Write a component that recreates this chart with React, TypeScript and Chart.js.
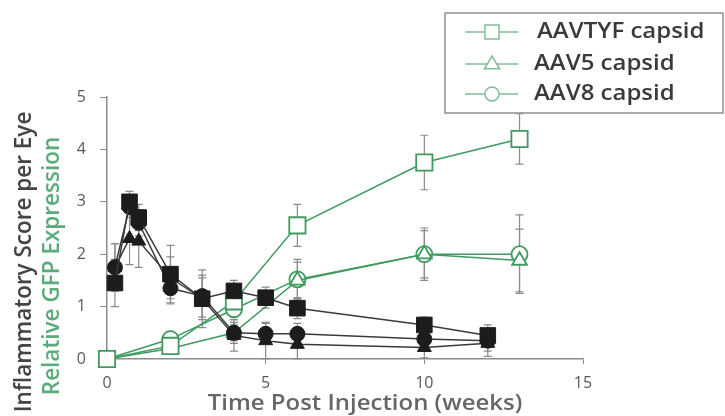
import React, { useEffect, useRef } from 'react';
import { Chart, registerables } from 'chart.js';

Chart.register(...registerables);

// ---- data ----
const X_TICK_STEP = 5;
const X_MAX = 15;
const Y_MAX = 5;

const GFP_WEEKS = [0, 2, 4, 6, 10, 13];
const AAVTYF_GFP = [0, 0.25, 1.1, 2.55, 3.75, 4.2];
const AAVTYF_GFP_ERR = [0.05, 0.15, 0.3, 0.4, 0.52, 0.48];
const AAV5_GFP = [0, 0.2, 0.5, 1.5, 2.0, 1.88];
const AAV5_GFP_ERR = [0.05, 0.1, 0.15, 0.35, 0.45, 0.6];
const AAV8_GFP = [0, 0.38, 0.95, 1.52, 2.0, 2.0];
const AAV8_GFP_ERR = [0.05, 0.15, 0.2, 0.38, 0.5, 0.75];

const INFL_WEEKS = [0.25, 0.71, 1, 2, 3, 4, 5, 6, 10, 12];
const AAVTYF_INFL = [1.45, 3.0, 2.7, 1.62, 1.15, 1.3, 1.17, 0.97, 0.65, 0.45];
const AAVTYF_INFL_ERR = [0.45, 0.2, 0.25, 0.55, 0.55, 0.2, 0.2, 0.2, 0.15, 0.2];
const AAV8_INFL = [1.75, 2.9, 2.6, 1.35, 1.2, 0.5, 0.48, 0.48, 0.38, 0.35];
const AAV8_INFL_ERR = [0.45, 0.2, 0.25, 0.3, 0.4, 0.2, 0.2, 0.2, 0.15, 0.2];
const AAV5_INFL = [1.75, 2.3, 2.25, 1.55, 1.15, 0.45, 0.35, 0.28, 0.22, 0.3];
const AAV5_INFL_ERR = [0.45, 0.5, 0.5, 0.4, 0.4, 0.3, 0.35, 0.28, 0.2, 0.25];

const LEGEND_LABELS = ['AAVTYF capsid', 'AAV5 capsid', 'AAV8 capsid'];
const Y_TITLE_BLACK = 'Inflammatory Score per Eye';
const Y_TITLE_GREEN = 'Relative GFP Expression';
const X_TITLE = 'Time Post Injection (weeks)';

// ---- styles ----
const FONT = '"Open Sans", Lato, sans-serif';
const GREEN = '#3f9a60';
const GREEN_TEXT = '#5aac7a';
const LEGEND_GREEN = '#80bd98';
const BLACK = '#1c1c1c';
const LINE_BLACK = '#3a3a3a';
const ERR_COLOR = '#8a8a8a';
const AXIS_COLOR = '#8c8c8c';
const TICK_COLOR = '#5a5a5a';

const pts = (xs: number[], ys: number[]) => xs.map((x, i) => ({ x, y: ys[i] }));

function drawText(
  ctx: CanvasRenderingContext2D,
  text: string,
  x: number,
  y: number,
  size: number,
  color: string,
  opts: { rotate?: number; scaleX?: number; align?: CanvasTextAlign; weight?: number } = {}
) {
  ctx.save();
  ctx.font = `${opts.weight || 400} ${size}px ${FONT}`;
  ctx.fillStyle = color;
  ctx.textAlign = opts.align || 'center';
  ctx.textBaseline = 'middle';
  ctx.translate(x, y);
  if (opts.rotate) ctx.rotate(opts.rotate);
  if (opts.scaleX) ctx.scale(opts.scaleX, 1);
  ctx.fillText(text, 0, 0);
  ctx.restore();
}

const errorBars = {
  id: 'errorBars',
  beforeDatasetsDraw(chart: any) {
    const { ctx, scales } = chart;
    const xs = scales.x;
    const ys = scales.y;
    ctx.save();
    chart.data.datasets.forEach((ds: any) => {
      if (!ds.err) return;
      ds.data.forEach((p: any, j: number) => {
        const e = ds.err[j];
        if (!e) return;
        const px = xs.getPixelForValue(p.x);
        const top = ys.getPixelForValue(p.y + e);
        const bot = ys.getPixelForValue(p.y - e);
        ctx.strokeStyle = ERR_COLOR;
        ctx.lineWidth = 1.2;
        ctx.beginPath();
        ctx.moveTo(px, top);
        ctx.lineTo(px, bot);
        ctx.moveTo(px - 4, top);
        ctx.lineTo(px + 4, top);
        ctx.moveTo(px - 4, bot);
        ctx.lineTo(px + 4, bot);
        ctx.stroke();
      });
    });
    ctx.restore();
  },
};

function drawMarker(ctx: CanvasRenderingContext2D, style: string, x: number, y: number, r: number) {
  ctx.beginPath();
  if (style === 'rect') {
    const s = r * Math.SQRT1_2;
    ctx.rect(x - s, y - s, 2 * s, 2 * s);
  } else if (style === 'triangle') {
    ctx.moveTo(x, y - r);
    ctx.lineTo(x + r * 0.95, y + r * 0.6);
    ctx.lineTo(x - r * 0.95, y + r * 0.6);
    ctx.closePath();
  } else {
    ctx.arc(x, y, r, 0, Math.PI * 2);
  }
  ctx.fill();
  ctx.stroke();
}

const boxLegend = {
  id: 'boxLegend',
  afterDraw(chart: any) {
    const { ctx, width } = chart;
    const left = 445;
    const top = 13;
    const right = width - 2;
    const bottom = 113;
    ctx.save();
    ctx.strokeStyle = '#909090';
    ctx.lineWidth = 1.5;
    ctx.strokeRect(left, top, right - left, bottom - top);
    const styles = ['rect', 'triangle', 'circle'];
    const radii = [10, 8, 7];
    const rows = [32, 64, 94];
    LEGEND_LABELS.forEach((label, i) => {
      const y = rows[i];
      ctx.strokeStyle = LEGEND_GREEN;
      ctx.lineWidth = 1.5;
      ctx.beginPath();
      ctx.moveTo(465, y);
      ctx.lineTo(518, y);
      ctx.stroke();
      ctx.fillStyle = '#ffffff';
      drawMarker(ctx, styles[i], 492, y, radii[i]);
      drawText(ctx, label, i === 0 ? 537 : 534, y, 22, '#3a3a3a', { align: 'left', scaleX: 1.09, weight: 600 });
    });
    ctx.restore();
  },
};

const axisTitles = {
  id: 'axisTitles',
  afterDraw(chart: any) {
    const { ctx } = chart;
    drawText(ctx, Y_TITLE_BLACK, 25, 262, 22.5, '#444444', { rotate: -Math.PI / 2, weight: 600 });
    drawText(ctx, Y_TITLE_GREEN, 53, 266, 22.5, GREEN_TEXT, { rotate: -Math.PI / 2, weight: 600 });
    drawText(ctx, X_TITLE, 365, 404, 21, '#666666', { scaleX: 1.14, weight: 600 });
  },
};

export default function App() {
  const ref = useRef<HTMLCanvasElement | null>(null);

  useEffect(() => {
    if (!ref.current) return;
    const blackSet = (label: string, ys: number[], err: number[], style: string, r: number) => ({
      label,
      data: pts(INFL_WEEKS, ys),
      err,
      borderColor: LINE_BLACK,
      borderWidth: 1.5,
      pointStyle: style,
      pointRadius: r,
      pointBackgroundColor: BLACK,
      pointBorderColor: BLACK,
      pointBorderWidth: 1,
      showLine: true,
      tension: 0,
    });
    const greenSet = (label: string, ys: number[], err: number[], style: string, r: number) => ({
      label,
      data: pts(GFP_WEEKS, ys),
      err,
      borderColor: GREEN,
      borderWidth: 1.5,
      pointStyle: style,
      pointRadius: r,
      pointBackgroundColor: '#ffffff',
      pointBorderColor: GREEN,
      pointBorderWidth: 1.8,
      showLine: true,
      tension: 0,
    });

    const chart = new Chart(ref.current, {
      type: 'line',
      data: {
        datasets: [
          blackSet('AAVTYF inflammation', AAVTYF_INFL, AAVTYF_INFL_ERR, 'rect', 11),
          blackSet('AAV8 inflammation', AAV8_INFL, AAV8_INFL_ERR, 'circle', 7.5),
          blackSet('AAV5 inflammation', AAV5_INFL, AAV5_INFL_ERR, 'triangle', 8),
          greenSet(LEGEND_LABELS[0], AAVTYF_GFP, AAVTYF_GFP_ERR, 'rect', 11.5),
          greenSet(LEGEND_LABELS[1], AAV5_GFP, AAV5_GFP_ERR, 'triangle', 8.5),
          greenSet(LEGEND_LABELS[2], AAV8_GFP, AAV8_GFP_ERR, 'circle', 8),
        ] as any,
      },
      options: {
        responsive: false,
        animation: false,
        clip: false as any,
        layout: { padding: { top: 97, right: 142, left: 0, bottom: 0 } },
        plugins: { legend: { display: false }, tooltip: { enabled: false } },
        scales: {
          x: {
            type: 'linear',
            min: 0,
            max: X_MAX,
            afterFit: (s: any) => { s.height = 57; },
            ticks: { stepSize: X_TICK_STEP, color: TICK_COLOR, font: { family: FONT, size: 16 }, padding: 10 },
            grid: { drawOnChartArea: false, drawTicks: true, tickLength: 5, color: AXIS_COLOR },
            border: { display: true, color: AXIS_COLOR, width: 1.5 },
          },
          y: {
            type: 'linear',
            min: 0,
            max: Y_MAX,
            afterFit: (s: any) => { s.width = 107; },
            ticks: { stepSize: 1, color: TICK_COLOR, font: { family: FONT, size: 16 }, padding: 14 },
            grid: { drawOnChartArea: false, drawTicks: true, tickLength: 7, color: AXIS_COLOR },
            border: { display: true, color: AXIS_COLOR, width: 1.5 },
          },
        },
      },
      plugins: [errorBars, boxLegend, axisTitles],
    });
    return () => chart.destroy();
  }, []);

  return (
    <canvas
      ref={ref}
      width={725}
      height={416}
      style={{ position: 'fixed', left: 0, top: 0, width: 725, height: 416 }}
    />
  );
}
